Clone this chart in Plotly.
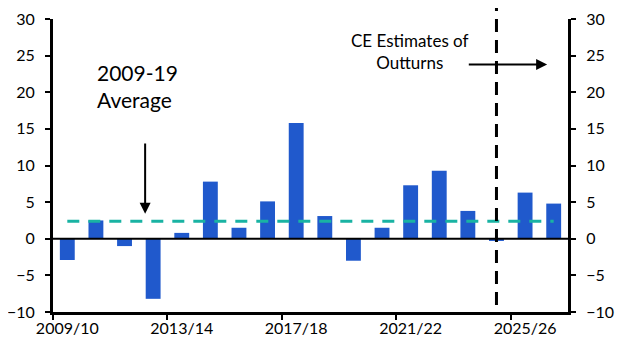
import plotly.graph_objects as go

years = ["2009/10", "2010/11", "2011/12", "2012/13", "2013/14", "2014/15",
         "2015/16", "2016/17", "2017/18", "2018/19", "2019/20", "2020/21",
         "2021/22", "2022/23", "2023/24", "2024/25", "2025/26", "2026/27"]
values = [-2.9, 2.5, -1.0, -8.2, 0.8, 7.8, 1.5, 5.1, 15.8, 3.1, -3.0, 1.5,
          7.3, 9.3, 3.8, -0.3, 6.3, 4.8]
avg_2009_19 = 2.4
estimate_start = "2024/25"

FONT = "Lato"
BAR = "#2059CC"
TEAL = "#19B3A3"

fig = go.Figure()
fig.add_trace(go.Bar(x=years, y=values, marker_color=BAR, marker_line_width=0,
                     width=0.52, showlegend=False))
fig.add_trace(go.Scatter(x=[years[0], years[-1]], y=[avg_2009_19, avg_2009_19],
                         mode="lines", line=dict(color=TEAL, width=3, dash="12px,9px"),
                         showlegend=False))
fig.add_trace(go.Scatter(x=[years[0]], y=[None], yaxis="y2", showlegend=False,
                         hoverinfo="skip"))

# zero line
fig.add_shape(type="line", xref="paper", yref="y", x0=0, x1=1, y0=0, y1=0,
              line=dict(color="black", width=2), layer="above")
# forecast divider
idx = years.index(estimate_start)
fig.add_shape(type="line", xref="x", yref="paper", x0=idx, x1=idx, y0=0.024, y1=1.04,
              line=dict(color="black", width=3, dash="13px,8px"), layer="above")

fig.add_annotation(x=2.72, y=3.4, ax=2.72, ay=13.2, axref="x", ayref="y",
                   xref="x", yref="y", text="", showarrow=True, arrowhead=2,
                   arrowsize=1.1, arrowwidth=2, arrowcolor="black")
fig.add_annotation(x=16.77, y=23.8, ax=13.98, ay=23.8, axref="x", ayref="y",
                   xref="x", yref="y", text="", showarrow=True, arrowhead=2,
                   arrowsize=1.1, arrowwidth=2, arrowcolor="black")
fig.add_annotation(x=2.44, y=20.9, xref="x", yref="y", text="2009-19<br>Average",
                   showarrow=False, align="left",
                   font=dict(family=FONT, size=21, color="black"))
fig.add_annotation(x=11.98, y=25.6, xref="x", yref="y", text="CE Estimates of<br>Outturns",
                   showarrow=False, align="center",
                   font=dict(family=FONT, size=17, color="black"))

yax = dict(range=[-10, 30], tickvals=[-10, -5, 0, 5, 10, 15, 20, 25, 30],
           showgrid=False, zeroline=False, showline=True, linecolor="black",
           linewidth=3, ticks="outside", ticklen=5, tickwidth=2, tickcolor="black",
           automargin=False, ticklabeloverflow="allow", ticklabelstandoff=7,
           tickfont=dict(family=FONT, size=16, color="black"))

fig.update_layout(
    width=628, height=355,
    margin=dict(l=45, r=68, t=11, b=51),
    paper_bgcolor="white", plot_bgcolor="white",
    bargap=0.48,
    xaxis=dict(type="category", range=[-0.5, 17.5], tickmode="linear", tick0=0, dtick=4,
               tickson="boundaries", tickangle=0, automargin=False,
               ticklabeloverflow="allow",
               showgrid=False, zeroline=False, showline=True,
               linecolor="black", linewidth=3, ticks="outside", ticklen=5, tickwidth=2,
               tickcolor="black", tickfont=dict(family=FONT, size=16, color="black")),
    yaxis=yax,
    yaxis2=dict(yax, overlaying="y", side="right", matches="y"),
)

fig.write_html("out.html")
